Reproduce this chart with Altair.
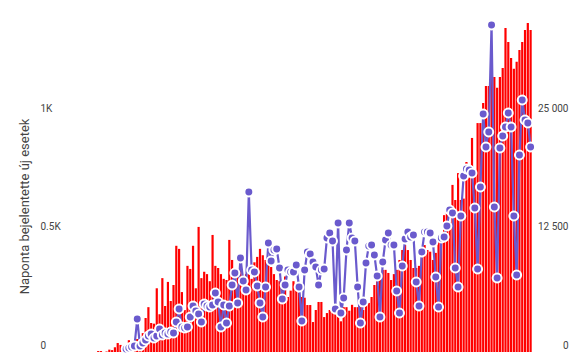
import altair as alt
import pandas as pd

# Daily new reported cases (bars, left axis), one value per day
new_cases = [
    0, 4, 4, 0, 2, 10, 8, 20, 38, 30,
    25, 15, 50, 30, 40, 55, 45, 80, 144, 190,
    123, 120, 270, 160, 313, 195, 297, 216, 284, 450,
    437, 254, 178, 365, 352, 450, 270, 530, 313, 340,
    330, 300, 496, 365, 356, 330, 310, 305, 475, 390,
    356, 340, 377, 310, 330, 330, 310, 380, 403, 437,
    410, 390, 390, 360, 330, 305, 300, 284, 320, 233,
    260, 300, 280, 250, 233, 230, 199, 199, 127, 178,
    212, 212, 148, 165, 178, 178, 160, 150, 130, 190,
    190, 175, 200, 190, 190, 190, 178, 200, 208, 233,
    284, 305, 335, 348, 348, 335, 305, 330, 348, 390,
    432, 453, 432, 390, 356, 356, 365, 400, 453, 432,
    425, 390, 420, 470, 487, 580, 589, 550, 708, 644,
    758, 644, 650, 805, 784, 907, 758, 970, 970, 1055,
    1127, 1127, 1200, 1165, 1120, 1165, 1203, 1373, 1314, 1246,
    1200, 1230, 1280, 1314, 1364, 1394, 1364,
]

# Second series (line with points, right axis), starting at day index line_start
line_start = 11
line_values = [
    318, 424, 530, 636, 3496, 636, 953, 1271, 1695, 1907,
    1483, 1695, 2436, 1801, 2013, 1907, 2119, 2013, 3178, 4555,
    2648, 2542, 2648, 3708, 4873, 4343, 4025, 3178, 5085, 4873,
    4767, 4979, 6250, 5297, 2648, 4979, 3072, 4873, 7097, 8368,
    5191, 9957, 7521, 6568, 16949, 8686, 8474, 6991, 5191, 3708,
    6885, 11546, 9640, 10805, 10911, 8898, 5614, 7097, 8686, 8474,
    8474, 9216, 6885, 3284, 8686, 10593, 10381, 9534, 9004, 7097,
    8686, 8792, 12076, 12606, 11758, 4555, 13665, 4131, 5720, 10805,
    13665, 12076, 11758, 6885, 3072, 5297, 9428, 11229, 11335, 10275,
    8051, 3708, 9534, 11864, 12606, 11335, 11335, 6462, 4131, 9110,
    11970, 12712, 12182, 12394, 7415, 4873, 10593, 12712, 12712, 12606,
    11652, 7945, 4767, 12076, 12182, 13347, 15042, 14724, 8898, 6885,
    14406, 18644, 19385, 19279, 18961, 15254, 8792, 17478, 25211, 21716,
    23305, 34639, 15360, 7839, 21610, 22881, 23834, 25317, 23834, 14406,
    8157, 20868, 26694, 24576, 24258, 21716,
]

left_ticks = [0, 500, 1000]
right_ticks = [0, 12500, 25000]
left_title = "Naponta bejelentette új esetek"

n = len(new_cases)
days = list(range(n))
bars_df = pd.DataFrame({"nap": days, "esetek": new_cases})
line_df = pd.DataFrame({
    "nap": list(range(line_start, line_start + len(line_values))),
    "ertek": line_values,
})

LEFT_MAX = 1491.5
RIGHT_MAX = LEFT_MAX * 25

x_enc = alt.X("nap:Q", scale=alt.Scale(domain=[-0.5, n - 0.5], nice=False, zero=False), axis=None)

bars = alt.Chart(bars_df).mark_bar(color="#ff0000", size=2.2).encode(
    x=x_enc,
    y=alt.Y(
        "esetek:Q",
        scale=alt.Scale(domain=[0, LEFT_MAX], nice=False),
        axis=alt.Axis(
            orient="left",
            title=left_title,
            values=left_ticks,
            labelExpr="datum.value == 0 ? '0' : format(datum.value / 1000, '~g') + 'K'",
            grid=False, domain=False, ticks=False, tickSize=0,
            labelAlign="left", labelPadding=49,
            labelBaseline="alphabetic", labelOffset=-4,
            labelFont="Roboto", labelFontSize=10, labelColor="#444444",
            titleFont="Roboto", titleFontSize=13, titleFontWeight="normal",
            titleColor="#444444", titleAngle=270, titleAlign="center",
            titleBaseline="middle", titleX=-65, titleY=206,
        ),
    ),
)

line = alt.Chart(line_df).mark_line(
    color="#6a5acd", strokeWidth=2.2,
    point=alt.OverlayMarkDef(filled=True, fill="#6a5acd", stroke="white", strokeWidth=2, size=80, opacity=1),
).encode(
    x=x_enc,
    y=alt.Y(
        "ertek:Q",
        scale=alt.Scale(domain=[0, RIGHT_MAX], nice=False),
        axis=alt.Axis(
            orient="right",
            title=None,
            values=right_ticks,
            labelExpr="replace(format(datum.value, ','), ',', ' ')",
            grid=False, domain=False, ticks=False, tickSize=0,
            labelAlign="right", labelPadding=31,
            labelBaseline="alphabetic", labelOffset=-4,
            labelFont="Roboto", labelFontSize=10, labelColor="#444444",
        ),
    ),
)

chart = alt.layer(bars, line).resolve_scale(y="independent").properties(
    width=448,
    height=352,
    background="white",
    autosize=alt.AutoSizeParams(type="none"),
    padding={"left": 89, "top": 0, "right": 38, "bottom": 3},
).configure_view(strokeWidth=0).configure_axis(
    domain=False, grid=False, ticks=False
)

chart.save("out.html", embed_options={"renderer": "svg", "actions": False})
